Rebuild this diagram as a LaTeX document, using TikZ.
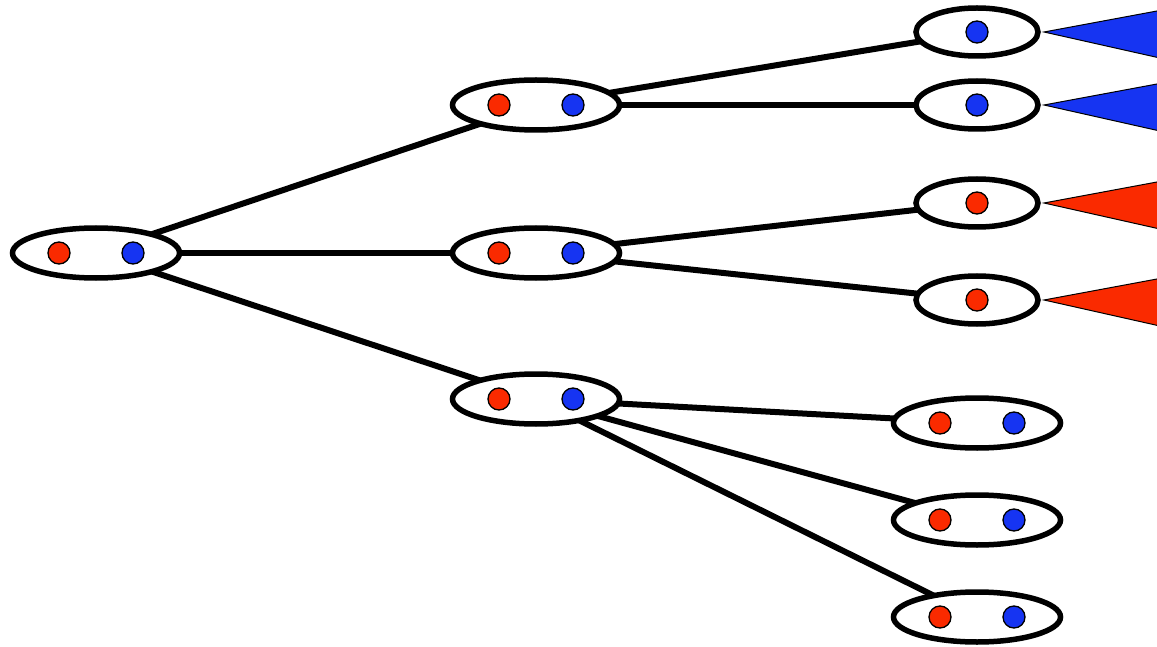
\documentclass[tikz,border=0pt]{standalone}
\usetikzlibrary{shapes.geometric}
\definecolor{dotred}{RGB}{250,42,0}
\definecolor{dotblue}{RGB}{22,52,242}
\tikzset{
  edge/.style={line width=6pt},
  pair/.style={ellipse, draw, line width=5.5pt, fill=white, minimum width=167pt, minimum height=50pt, inner sep=0pt},
  single/.style={ellipse, draw, line width=5.5pt, fill=white, minimum width=122pt, minimum height=48pt, inner sep=0pt},
  rdot/.style={circle, draw, line width=1.3pt, fill=dotred, minimum size=22pt, inner sep=0pt},
  bdot/.style={circle, draw, line width=1.3pt, fill=dotblue, minimum size=22pt, inner sep=0pt},
  tri/.style={draw, line width=1pt}
}
\begin{document}
\begin{tikzpicture}[x=1pt,y=-1pt]
\useasboundingbox (0,0) rectangle (1157,647);
\clip (0,0) rectangle (1157,647);
% coordinates of node centres
\coordinate (R) at (96,253);
\coordinate (A) at (536,105);
\coordinate (B) at (536,253);
\coordinate (C) at (536,399);
\coordinate (L1) at (977,32);
\coordinate (L2) at (977,105);
\coordinate (L3) at (977,203);
\coordinate (L4) at (977,300);
\coordinate (L5) at (977,423);
\coordinate (L6) at (977,520);
\coordinate (L7) at (977,617);
% edges
\foreach \s/\t in {R/A,R/B,R/C,A/L1,A/L2,B/L3,B/L4,C/L5,C/L6,C/L7}
  \draw[edge] (\s) -- (\t);
% triangles
\draw[tri, fill=dotblue] (1044,32) -- (1200,3) -- (1200,67) -- cycle;
\draw[tri, fill=dotblue] (1044,105) -- (1200,76) -- (1200,140) -- cycle;
\draw[tri, fill=dotred] (1044,203) -- (1200,174) -- (1200,238) -- cycle;
\draw[tri, fill=dotred] (1044,300) -- (1200,271) -- (1200,335) -- cycle;
% ellipses
\node[pair] (r) at (R) {};
\node[pair] (a) at (A) {};
\node[pair] (b) at (B) {};
\node[pair] (c) at (C) {};
\node[single] (l1) at (L1) {};
\node[single] (l2) at (L2) {};
\node[single] (l3) at (L3) {};
\node[single] (l4) at (L4) {};
\node[pair] (l5) at (L5) {};
\node[pair] (l6) at (L6) {};
\node[pair] (l7) at (L7) {};
% dots
\foreach \n in {r,a,b,c,l5,l6,l7} {
  \node[rdot] (\n-r) at ([xshift=-37pt]\n.center) {};
  \node[bdot] (\n-b) at ([xshift=37pt]\n.center) {};
}
\node[bdot] (l1-d) at (l1.center) {};
\node[bdot] (l2-d) at (l2.center) {};
\node[rdot] (l3-d) at (l3.center) {};
\node[rdot] (l4-d) at (l4.center) {};
\end{tikzpicture}
\end{document}
